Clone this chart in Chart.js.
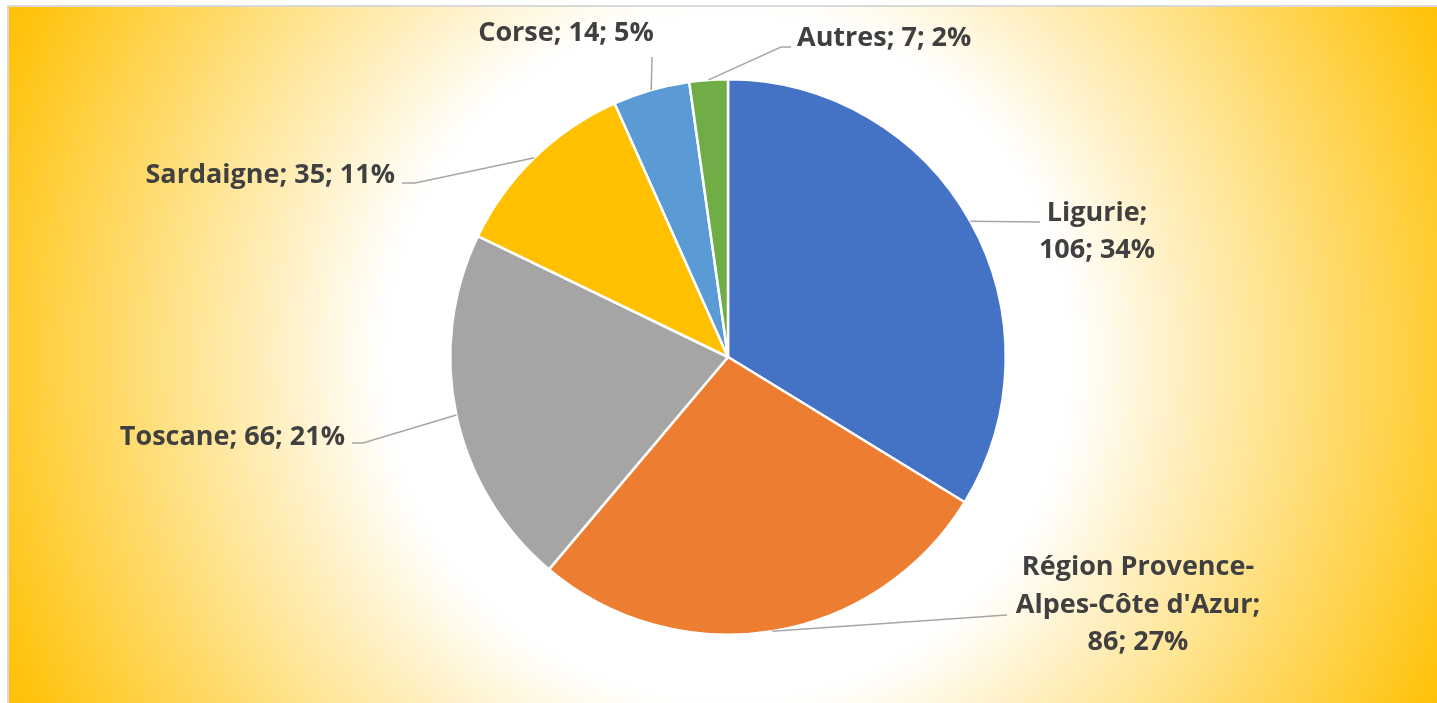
<!DOCTYPE html>
<html>
<head>
<meta charset="utf-8">
<script src="https://cdn.jsdelivr.net/npm/chart.js@4.4.1/dist/chart.umd.min.js"></script>
<style>
  html, body { margin: 0; padding: 0; background: #fff; }
  #wrap { width: 1437px; height: 703px; }
</style>
</head>
<body>
<div id="wrap"><canvas id="pie" width="1437" height="703"></canvas></div>
<script>
// data
const regions = ['Ligurie', "Région Provence-Alpes-Côte d'Azur", 'Toscane', 'Sardaigne', 'Corse', 'Autres'];
const counts = [106, 86, 66, 35, 14, 7];
const percents = [34, 27, 21, 11, 5, 2];
const sliceColors = ['#4472C4', '#ED7D31', '#A5A5A5', '#FFC000', '#5B9BD5', '#70AD47'];

// label placement, px relative to the pie centre (Excel moved these by hand)
// elbow = where the leader line bends, end = where it stops next to the text
// breakAfter = where the label text wraps
const labelLayout = [
  { breakAfter: ['Ligurie; '], elbow: [312, -135], end: [312, -135], text: [369, -125], align: 'center' },
  { breakAfter: ['Provence-', "d'Azur; "], elbow: [279, 258], end: [279, 258], text: [410, 248], align: 'center' },
  { breakAfter: [], elbow: [-365, 86], end: [-376, 86], text: [-383, 80], align: 'right' },
  { breakAfter: [], elbow: [-313, -174], end: [-326, -174], text: [-333, -182], align: 'right' },
  { breakAfter: [], elbow: [-76, -300], end: [-76, -300], text: [-162, -324], align: 'center' },
  { breakAfter: [], elbow: [53, -310], end: [63, -310], text: [69, -319], align: 'left' }
];

function labelLines(i) {
  let s = `${regions[i]}; ${counts[i]}; ${percents[i]}%`;
  labelLayout[i].breakAfter.forEach(t => { s = s.replace(t, t.trimEnd() + '\n'); });
  return s.split('\n');
}

const background = {
  id: 'background',
  beforeDraw(chart) {
    const c = chart.ctx;
    const arc = chart.getDatasetMeta(0).data[0];
    const cx = arc.x, cy = arc.y;
    c.save();
    c.fillStyle = '#fff';
    c.fillRect(0, 0, chart.width, chart.height);
    const g = c.createRadialGradient(cx, cy, 0, cx, cy, 800);
    g.addColorStop(0, '#ffffff');
    g.addColorStop(0.43, '#ffffff');
    g.addColorStop(1, '#FFC000');
    c.fillStyle = g;
    c.fillRect(9, 7, chart.width - 9, chart.height - 7);
    c.strokeStyle = '#D9D9D9';
    c.lineWidth = 2;
    c.beginPath();
    c.moveTo(8, chart.height);
    c.lineTo(8, 6);
    c.lineTo(chart.width, 6);
    c.stroke();
    c.restore();
  }
};

const outsideLabels = {
  id: 'outsideLabels',
  afterDatasetsDraw(chart) {
    const c = chart.ctx;
    const meta = chart.getDatasetMeta(0);
    c.save();
    meta.data.forEach((arc, i) => {
      const lay = labelLayout[i];
      const mid = (arc.startAngle + arc.endAngle) / 2;
      const ax = arc.x + Math.cos(mid) * arc.outerRadius;
      const ay = arc.y + Math.sin(mid) * arc.outerRadius;
      c.strokeStyle = '#A6A6A6';
      c.lineWidth = 1.5;
      c.beginPath();
      c.moveTo(ax, ay);
      c.lineTo(arc.x + lay.elbow[0], arc.y + lay.elbow[1]);
      c.lineTo(arc.x + lay.end[0], arc.y + lay.end[1]);
      c.stroke();

      c.fillStyle = '#404040';
      c.font = 'bold 27px "Open Sans"';
      c.textAlign = lay.align;
      c.textBaseline = 'middle';
      const lines = labelLines(i);
      const lh = 37.5;
      const tx = arc.x + lay.text[0];
      const ty0 = arc.y + lay.text[1] - (lines.length - 1) * lh / 2;
      lines.forEach((s, k) => c.fillText(s, tx, ty0 + k * lh));
    });
    c.restore();
  }
};

new Chart(document.getElementById('pie'), {
  type: 'pie',
  data: {
    labels: regions,
    datasets: [{
      data: counts,
      backgroundColor: sliceColors,
      borderColor: '#ffffff',
      borderWidth: 2.5,
      hoverOffset: 0
    }]
  },
  options: {
    responsive: false,
    animation: false,
    layout: { padding: { left: 19, right: 0, top: 78, bottom: 67 } },
    plugins: {
      legend: { display: false },
      tooltip: { enabled: false }
    }
  },
  plugins: [background, outsideLabels]
});
</script>
</body>
</html>
